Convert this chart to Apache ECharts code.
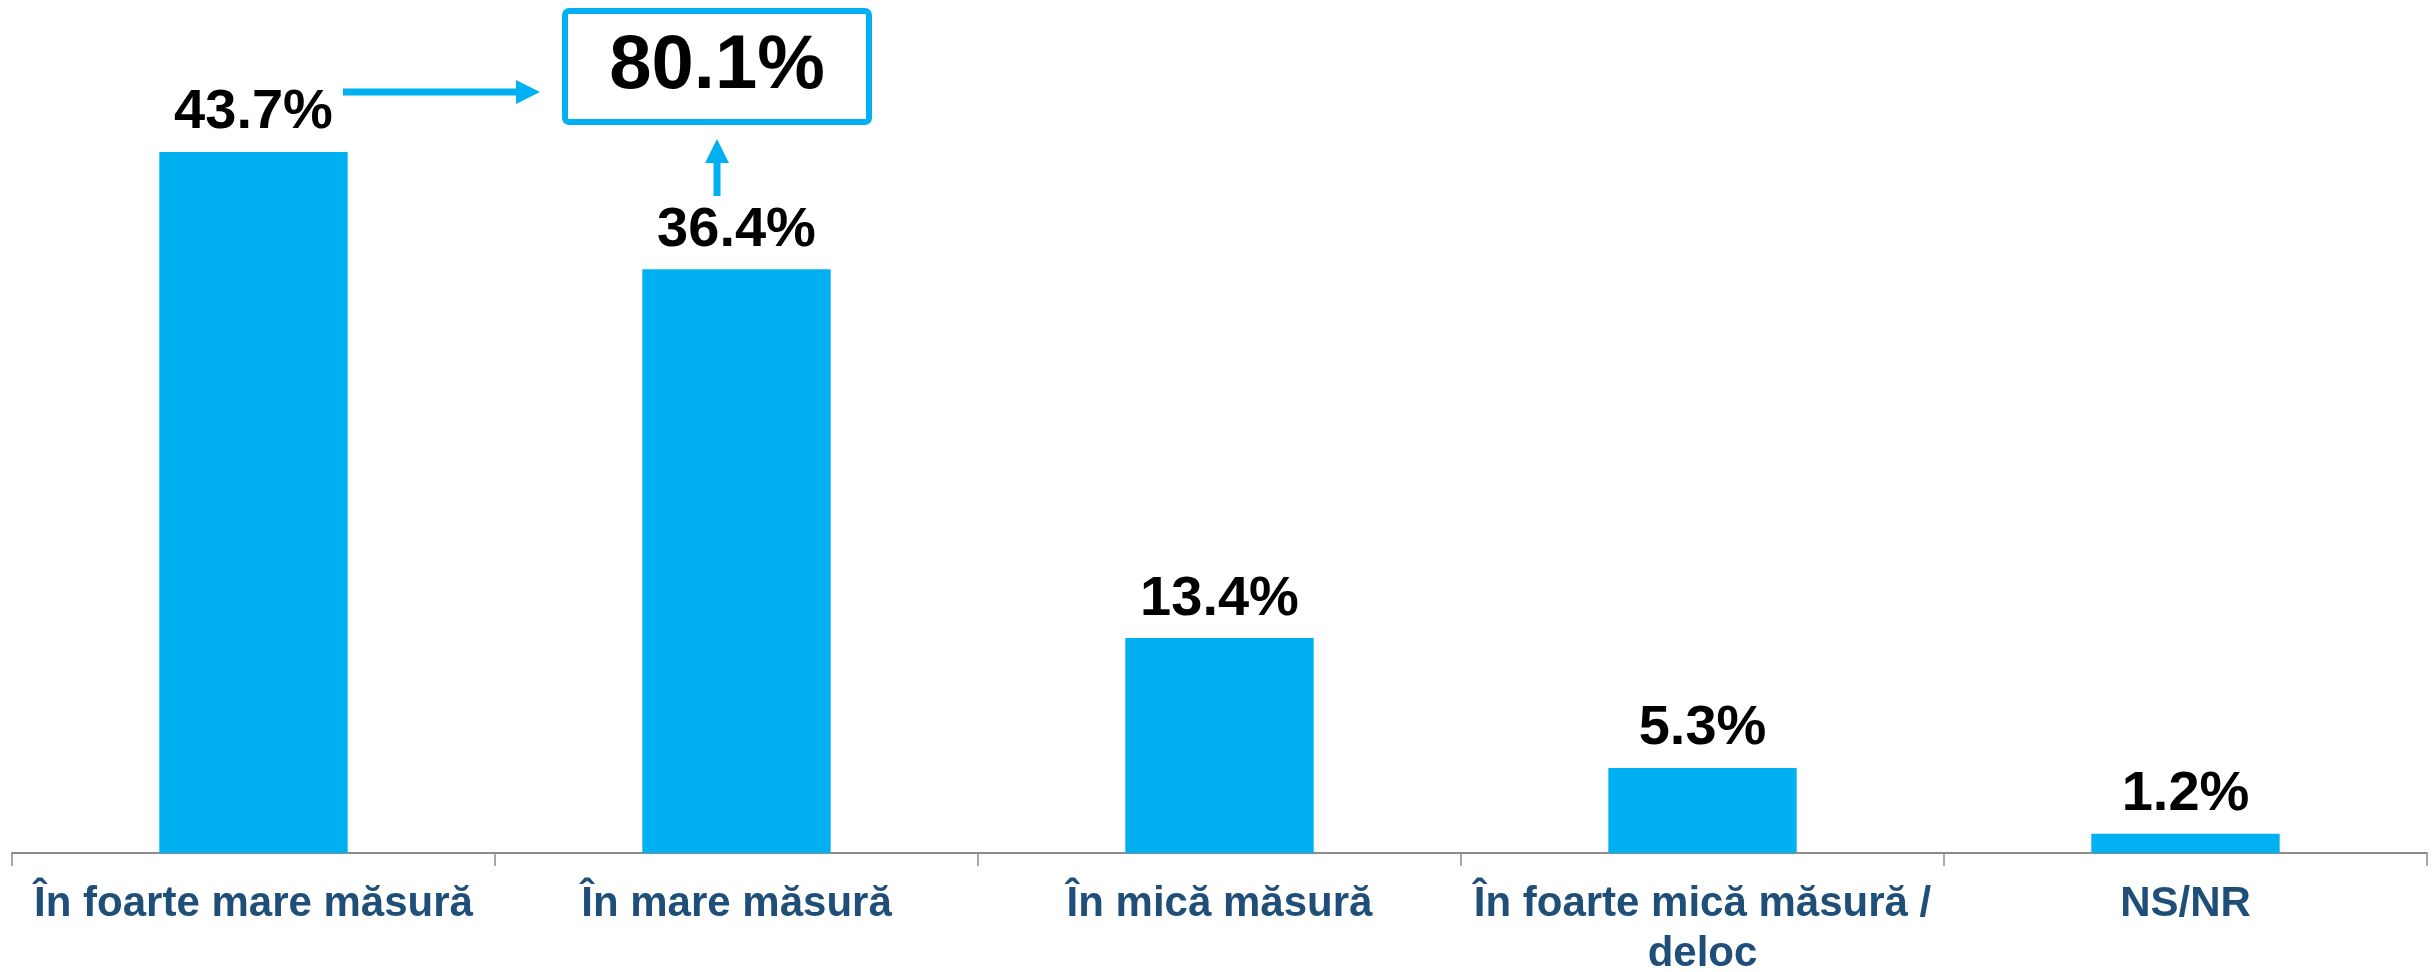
<!DOCTYPE html>
<html lang="ro">
<head>
  <meta charset="UTF-8">
  <title>Grafic</title>
  <script src="https://cdn.jsdelivr.net/npm/echarts@6/dist/echarts.min.js"></script>
  <style>
    html, body { margin: 0; padding: 0; background: #fff; }
    #chart { width: 2435px; height: 972px; }
  </style>
</head>
<body>
  <div id="chart"></div>
  <script>
    // categorii si valori
    const categories = [
      'În foarte mare măsură',
      'În mare măsură',
      'În mică măsură',
      'În foarte mică măsură /\ndeloc',
      'NS/NR'
    ]
    const values = [43.7, 36.4, 13.4, 5.3, 1.2]
    // total "mare + foarte mare"
    const totalLabel = '80.1%'

    const FONT = '"Liberation Sans Narrow", "Arial Narrow", "Liberation Sans", Arial, sans-serif'
    const LABEL_FONT = '"Liberation Sans", Arial, sans-serif'
    const BLUE = '#00B0F0'

    const chart = echarts.init(document.getElementById('chart'))
    chart.setOption({
      backgroundColor: '#fff',
      animation: false,
      grid: { left: 12, right: 8, top: 51, bottom: 119, outerBoundsMode: 'none' },
      xAxis: {
        type: 'category',
        data: categories,
        axisLine: { lineStyle: { color: '#8c8c8c', width: 2 } },
        axisTick: { show: true, length: 13, lineStyle: { color: '#8c8c8c', width: 1.5 } },
        axisLabel: {
          interval: 0,
          margin: 26,
          color: '#1F4E79',
          fontFamily: LABEL_FONT,
          fontWeight: 'bold',
          fontSize: 42,
          lineHeight: 50
        }
      },
      yAxis: {
        type: 'value',
        min: 0,
        max: 50,
        show: false,
        splitLine: { show: false }
      },
      series: [{
        type: 'bar',
        data: values,
        barWidth: '39%',
        itemStyle: { color: BLUE },
        label: {
          show: true,
          position: 'top',
          distance: 11,
          color: '#000',
          fontFamily: FONT,
          fontWeight: 'bold',
          fontSize: 56,
          formatter: p => p.value.toFixed(1) + '%'
        }
      }],
      graphic: [
        // caseta cu totalul
        {
          type: 'rect',
          shape: { x: 565, y: 11, width: 304, height: 111, r: 4 },
          style: { fill: '#fff', stroke: BLUE, lineWidth: 6 }
        },
        {
          type: 'text',
          x: 717,
          y: 67,
          style: {
            text: totalLabel,
            fill: '#000',
            font: 'bold 76px ' + FONT,
            align: 'center',
            verticalAlign: 'middle'
          }
        },
        // sageata orizontala
        {
          type: 'line',
          shape: { x1: 343, y1: 92, x2: 520, y2: 92 },
          style: { stroke: BLUE, lineWidth: 7 }
        },
        {
          type: 'polygon',
          shape: { points: [[516, 80], [540, 92], [516, 104]] },
          style: { fill: BLUE }
        },
        // sageata verticala
        {
          type: 'line',
          shape: { x1: 717, y1: 196, x2: 717, y2: 160 },
          style: { stroke: BLUE, lineWidth: 7 }
        },
        {
          type: 'polygon',
          shape: { points: [[705, 163], [717, 139], [729, 163]] },
          style: { fill: BLUE }
        }
      ]
    })
  </script>
</body>
</html>
